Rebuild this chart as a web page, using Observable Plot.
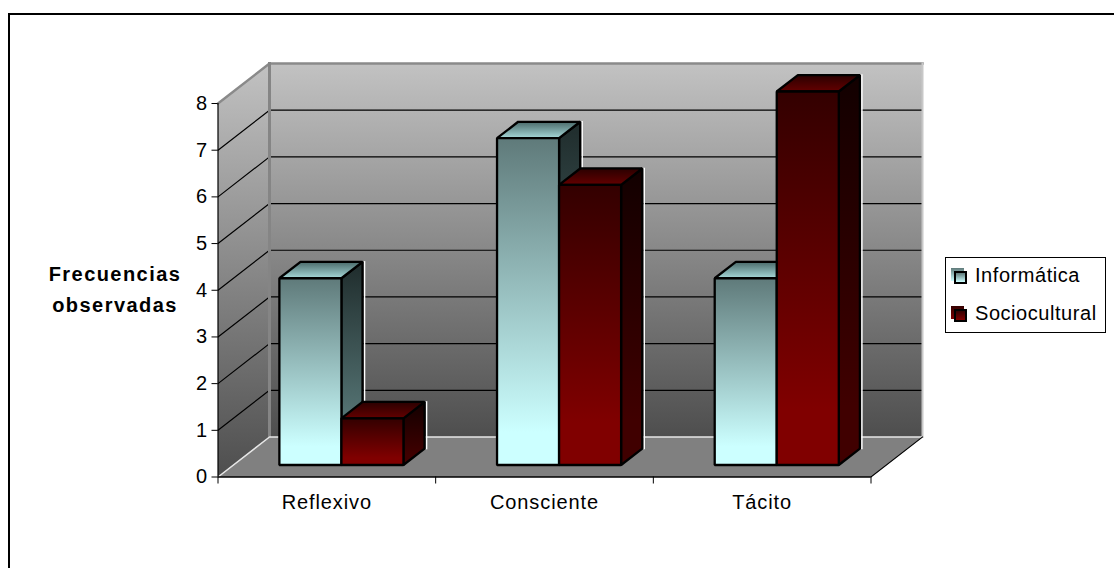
<!DOCTYPE html>
<html lang="es">
<head>
<meta charset="utf-8">
<script src="https://cdn.jsdelivr.net/npm/d3@7"></script>
<script src="https://cdn.jsdelivr.net/npm/@observablehq/plot@0.6"></script>
<style>
  html, body { margin: 0; padding: 0; background: #fff; }
  #chart { position: relative; width: 1114px; height: 568px; overflow: hidden; font-family: "Liberation Sans", Arial, sans-serif; color: #000; }
  /* The sheet's rule lines run off the top and left of the page */
  #frame { position: absolute; left: 8px; top: 13px; width: 1200px; height: 700px; border: 2px solid #000; }
  #chart svg { position: absolute; left: 0; top: 0; }
  #chart svg text { letter-spacing: .9px; }
  #chart svg g[font-weight="bold"] text { letter-spacing: 1.45px; }
  #legend { position: absolute; left: 945px; top: 257px; width: 159px; height: 74px; border: 1px solid #000; background: #fff; }
  .entry { position: absolute; left: 29px; font-size: 20px; letter-spacing: .55px; line-height: 24px; white-space: nowrap; }
  .swatch { position: absolute; left: 5px; width: 13px; height: 13px; }
  .swatch i { position: absolute; left: 3px; top: 3px; width: 9px; height: 9px; border: 2px solid #000; box-sizing: content-box; }
</style>
</head>
<body>
<div id="chart"><div id="frame"></div></div>
<script>
// Frecuencias observadas por categoría y grupo
const categories = ["Reflexivo", "Consciente", "Tácito"];
const informatica = [4, 7, 4];
const sociocultural = [1, 6, 8];
const seriesNames = ["Informática", "Sociocultural"];
const valueTicks = [0, 1, 2, 3, 4, 5, 6, 7, 8];
const axisTitle = "Frecuencias\nobservadas";

// Oblique depth of the plot box, in axis units
const depthX = 0.2366;
const depthY = 0.857;
const project = (c, v, d) => ({x: c + d * depthX, y: v + d * depthY});

function poly(id, corners) {
  return corners.map(([c, v, d]) => ({id, ...project(c, v, d)}));
}

// Three visible faces of a bar
const halfBar = 0.1425, barFront = 0.3, barBack = 0.71, barCentre = 0.496;
function bar(index, seriesIndex, value) {
  const mid = index + barCentre + (seriesIndex === 0 ? -halfBar : halfBar);
  const l = mid - halfBar, r = mid + halfBar;
  return {
    front: poly(`f${index}${seriesIndex}`, [[l, 0, barFront], [r, 0, barFront], [r, value, barFront], [l, value, barFront]]),
    side: poly(`s${index}${seriesIndex}`, [[r, 0, barFront], [r, 0, barBack], [r, value, barBack], [r, value, barFront]]),
    top: poly(`t${index}${seriesIndex}`, [[l, value, barFront], [r, value, barFront], [r, value, barBack], [l, value, barBack]]),
    edge: poly(`e${index}${seriesIndex}`, [[r, value, barBack], [r, 0, barBack]])
  };
}

const gradients = {
  wall: ["#c2c2c2", "#4e4e4e", 100],
  infoFront: ["#5f7a7a", "#ccffff", 90],
  infoSide: ["#1f2c2c", "#5e8080", 90],
  infoTop: ["#4a6a6a", "#a6d8d8", 100],
  socFront: ["#330000", "#800000", 85],
  socSide: ["#120000", "#400000", 85],
  socTop: ["#2a0000", "#640000", 100]
};

function defs() {
  const d = d3.create("svg:defs");
  for (const [id, [a, b, end]] of Object.entries(gradients)) {
    const g = d.append("linearGradient").attr("id", id).attr("x1", 0).attr("y1", 0).attr("x2", 0).attr("y2", 1);
    g.append("stop").attr("offset", "0%").attr("stop-color", a);
    g.append("stop").attr("offset", `${end}%`).attr("stop-color", b);
  }
  return d.node();
}

const shape = (pts, fill, extra = {}) =>
  Plot.line(pts, {x: "x", y: "y", z: "id", fill, stroke: "none", curve: "linear-closed", ...extra});
const edge = (pts, stroke, strokeWidth, extra = {}) =>
  Plot.line(pts, {x: "x", y: "y", z: "id", stroke, strokeWidth, strokeLinecap: "square", ...extra});

// Box walls and floor
const xEnd = categories.length;
const yEnd = valueTicks[valueTicks.length - 1];
const backWall = poly("back", [[0, 0, 1], [xEnd, 0, 1], [xEnd, yEnd, 1], [0, yEnd, 1]]);
const sideWall = poly("side", [[0, 0, 0], [0, 0, 1], [0, yEnd, 1], [0, yEnd, 0]]);
const floor = poly("floor", [[0, 0, 0], [xEnd, 0, 0], [xEnd, 0, 1], [0, 0, 1]]);
const gridLines = valueTicks.slice(1, -1).flatMap(v =>
  poly(`g${v}`, [[0, v, 0], [0, v, 1], [xEnd, v, 1]]));

const barMarks = categories.flatMap((_, i) => [
  [0, informatica[i], "info"],
  [1, sociocultural[i], "soc"]
].flatMap(([s, value, key]) => {
  const b = bar(i, s, value);
  const stroke = {stroke: "#000", strokeWidth: 2.3, strokeLinejoin: "miter"};
  return [
    edge(b.edge, "#fff", 1.5, {dx: 2}),
    shape(b.side, `url(#${key}Side)`, stroke),
    shape(b.top, `url(#${key}Top)`, stroke),
    shape(b.front, `url(#${key}Front)`, stroke)
  ];
}));

const chart = Plot.plot({
  width: 1114,
  height: 568,
  marginLeft: 217.5,
  marginRight: 243.5,
  marginTop: 103,
  marginBottom: 91.5,
  style: {background: "transparent", fontFamily: '"Liberation Sans", Arial, sans-serif', color: "#000", overflow: "visible"},
  x: {domain: [0, xEnd]},
  y: {domain: [0, yEnd]},
  marks: [
    defs,
    shape(backWall, "url(#wall)"),
    shape(sideWall, "url(#wall)"),
    shape(floor, "#808080"),
    Plot.line(gridLines, {x: "x", y: "y", z: "id", stroke: "#000", strokeWidth: 1.2}),
    // Sunken rim of the walls
    edge(poly("rimTop", [[0, yEnd, 0], [0, yEnd, 1], [xEnd, yEnd, 1]]), "#8a8a8a", 2.5),
    edge(poly("rimLeft", [[0, yEnd, 1], [0, 0, 1]]), "#858585", 3),
    edge(poly("rimRight", [[xEnd, yEnd, 1], [xEnd, 0, 1]]), "#c8c8c8", 2),
    edge(poly("rimFloor", [[0, 0, 0], [0, 0, 1], [xEnd, 0, 1]]), "#e6e6e6", 1.5),
    ...barMarks,
    // Axes
    Plot.ruleX([0], {stroke: "#000", strokeWidth: 1.2}),
    Plot.ruleY([0], {stroke: "#000", strokeWidth: 1.5}),
    edge(poly("floorEdge", [[xEnd, 0, 0], [xEnd, 0, 1]]), "#000", 1.2),
    Plot.axisY({ticks: valueTicks, tickSize: 6, tickPadding: 4, fontSize: 20, label: null, stroke: "#000"}),
    Plot.axisX({ticks: d3.range(xEnd + 1), tickSize: 7, tickFormat: () => "", label: null, stroke: "#000"}),
    Plot.axisX({ticks: categories.map((_, i) => i + 0.5), tickSize: 0, tickPadding: 18, fontSize: 20,
      tickFormat: t => categories[t - 0.5], label: null, fill: "#000"}),
    Plot.text([axisTitle], {text: d => d, frameAnchor: "left", dx: -103, dy: -3.5, fontSize: 20, fontWeight: "bold",
      lineHeight: 1.55, fill: "#000", textAnchor: "middle"})
  ]
});

const root = document.getElementById("chart");
root.appendChild(chart);

// Legend box
const legend = document.createElement("div");
legend.id = "legend";
const legendStyles = [
  ["linear-gradient(#5f7a7a,#ccffff)", 10, 5],
  ["linear-gradient(#330000,#800000)", 48, 43]
];
seriesNames.forEach((name, i) => {
  const [bg, swatchTop, textTop] = legendStyles[i];
  const sw = document.createElement("div");
  sw.className = "swatch";
  sw.style.top = swatchTop + "px";
  sw.style.background = bg;
  const inner = document.createElement("i");
  inner.style.background = bg;
  sw.appendChild(inner);
  const t = document.createElement("div");
  t.className = "entry";
  t.style.top = textTop + "px";
  t.textContent = name;
  legend.append(sw, t);
});
root.appendChild(legend);
</script>
</body>
</html>
